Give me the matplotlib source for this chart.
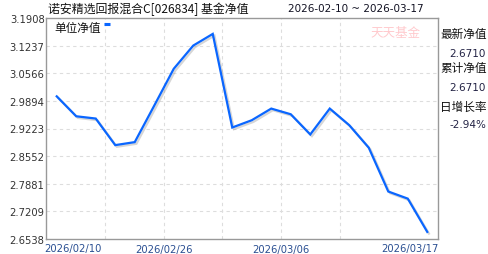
import matplotlib
matplotlib.use("Agg")
import matplotlib.pyplot as plt
import matplotlib.patheffects as pe

plt.rcParams['font.family'] = ['Noto Sans CJK SC', 'DejaVu Sans']

# data
dates = ['2026-02-10', '2026-02-11', '2026-02-12', '2026-02-13', '2026-02-24',
         '2026-02-25', '2026-02-26', '2026-02-27', '2026-03-02', '2026-03-03',
         '2026-03-04', '2026-03-05', '2026-03-06', '2026-03-09', '2026-03-10',
         '2026-03-11', '2026-03-12', '2026-03-13', '2026-03-16', '2026-03-17']
nav = [3.0004, 2.9520, 2.9465, 2.8819, 2.8892, 2.9779, 3.0674, 3.1238, 3.1521, 2.9247,
       2.9424, 2.9707, 2.9569, 2.9078, 2.9707, 2.9303, 2.8756, 2.7692, 2.7519, 2.6710]
yticks = [2.6538, 2.7209, 2.7881, 2.8552, 2.9223, 2.9894, 3.0566, 3.1237, 3.1908]
xgrid = [2.5, 5.5, 8.5, 11.5, 14.5]
xlabels = ['2026/02/10', '2026/02/26', '2026/03/06', '2026/03/17']
title = '诺安精选回报混合C[026834] 基金净值'
period = '2026-02-10 ~ 2026-03-17'
side_labels = ['最新净值', '2.6710', '累计净值', '2.6710', '日增长率', '-2.94%']

fig = plt.figure(figsize=(4.88, 2.55), dpi=100)
ax = fig.add_axes([46 / 488, 15 / 255, 392 / 488, 221 / 255])

x = list(range(len(nav)))
ax.plot(x, nav, color='#0a66ff', lw=1.6, solid_joinstyle='miter',
        path_effects=[pe.SimpleLineShadow(offset=(1.2, -1.2), shadow_color='#999999', alpha=0.4),
                      pe.Normal()], zorder=3)

ax.set_xlim(-0.55, len(nav) - 1 + 0.55)
ax.set_ylim(yticks[0], yticks[-1])
ax.set_yticks(yticks)
ax.set_yticklabels(['%.4f' % v for v in yticks], fontsize=7.2, color='#333333',
                   family='DejaVu Sans')
ax.set_xticks([])
ax.tick_params(axis='y', length=0, pad=1)

for v in yticks[1:-1]:
    ax.axhline(v, color='#dddddd', lw=0.8, ls=(0, (3, 3)), zorder=1)
for v in xgrid:
    ax.axvline(v, color='#dddddd', lw=0.8, ls=(0, (3, 3)), zorder=1)

for s in ax.spines.values():
    s.set_color('#999999')
    s.set_linewidth(1)

# x labels
xc = '#2a4f92'
fig.text(44 / 488, 1 - 249 / 255, xlabels[0], fontsize=7.2, color=xc, ha='left', va='center',
         family='DejaVu Sans')
ax.text(xgrid[1], -0.045, xlabels[1], transform=ax.get_xaxis_transform(), fontsize=7.2,
        color=xc, ha='center', va='center', family='DejaVu Sans')
ax.text(xgrid[3], -0.045, xlabels[2], transform=ax.get_xaxis_transform(), fontsize=7.2,
        color=xc, ha='center', va='center', family='DejaVu Sans')
fig.text(439 / 488, 1 - 249 / 255, xlabels[3], fontsize=7.2, color=xc, ha='right', va='center',
         family='DejaVu Sans')

# titles
fig.text(48 / 488, 1 - 9 / 255, title, fontsize=8.6, color='#111111', ha='left', va='center')
fig.text(288 / 488, 1 - 9 / 255, period, fontsize=7.5, color='#111122', ha='left', va='center',
         family='DejaVu Sans')

# legend
fig.text(54 / 488, 1 - 28 / 255, '单位净值', fontsize=8.4, color='#111111', ha='left', va='center')
ax.plot([0.148, 0.163], [0.972, 0.972], transform=ax.transAxes, color='#0a66ff', lw=2.2,
        solid_capstyle='butt', clip_on=False)

# watermark
fig.text(395 / 488, 1 - 33 / 255, '天天基金', fontsize=9, color='#ffb3b8', alpha=0.7,
         ha='center', va='center')

# right side panel
ys = [34, 54, 68, 88, 107, 125]
for i, (t, yy) in enumerate(zip(side_labels, ys)):
    if i % 2 == 0:
        fig.text(440 / 488, 1 - yy / 255, t, fontsize=8.4, color='#111111', ha='left', va='center')
    else:
        fig.text(486 / 488, 1 - yy / 255, t, fontsize=7.5, color='#222244', ha='right',
                 va='center', family='DejaVu Sans')

fig.savefig('out.png', dpi=100)
